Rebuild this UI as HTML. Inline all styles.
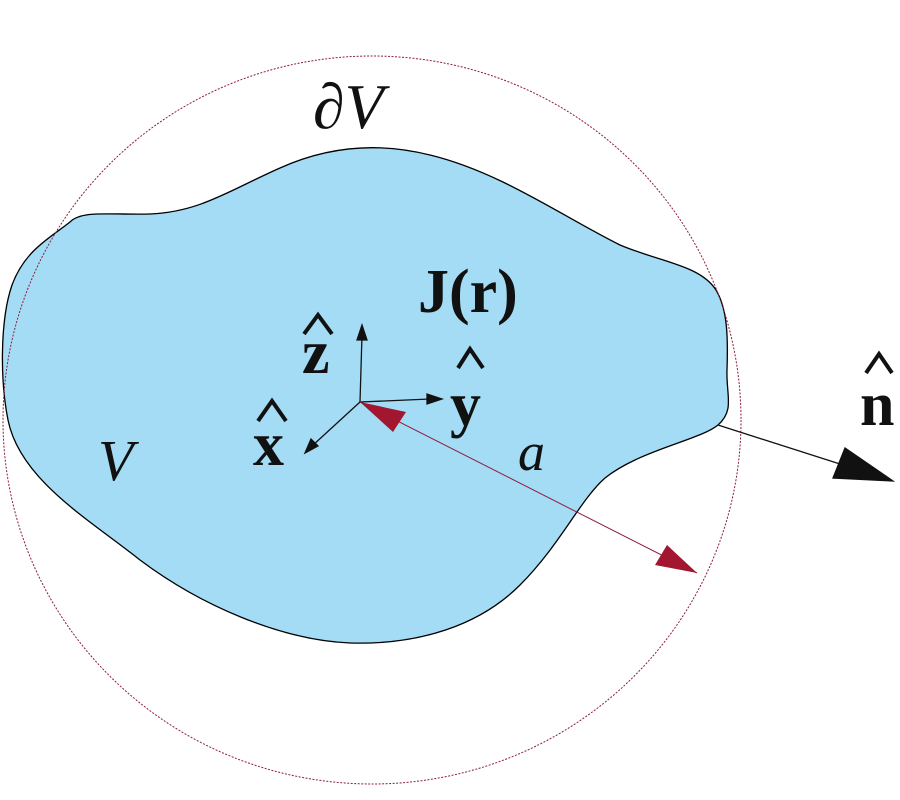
<!DOCTYPE html>
<html><head><style>body{margin:0;background:#fff}svg{display:block}</style></head><body>
<svg width="900" height="800" viewBox="0 0 900 800" xmlns="http://www.w3.org/2000/svg">
<path d="M70,222 C82,210 110,215 150,214 C200,212 230,190 280,168 C320,150 370,140 430,155 C500,172 560,215 620,245 C660,262 700,265 716,290 C728,310 728,340 727,370 C726,395 735,410 718,425 C700,440 640,450 605,478 C580,500 560,545 520,585 C480,625 420,645 350,643 C280,640 200,605 140,560 C90,520 20,480 8,420 C0,380 0,320 12,285 C25,250 50,238 70,222 Z" fill="#a4dcf5" stroke="#000" stroke-width="1.3"/>
<ellipse cx="372" cy="420" rx="369" ry="364" fill="none" stroke="#8b1e3f" stroke-width="1" stroke-dasharray="2,1.5"/>
<g stroke="#111" stroke-width="1.3" fill="#111">
<line x1="360" y1="402" x2="362" y2="335"/><polygon points="362,325 357,340 367,340"/>
<line x1="360" y1="402" x2="430" y2="399"/><polygon points="442,399 427,394 427,404"/>
<line x1="360" y1="402" x2="312" y2="446"/><polygon points="305,453 311,439 318,446"/>
<line x1="718" y1="425" x2="840" y2="464"/><polygon points="893,481 845,448 833,478"/>
</g>
<line x1="360" y1="402" x2="697" y2="573" stroke="#8b1e3f" stroke-width="1"/>
<polygon points="360,402 406,412 393,432" fill="#a3162f"/>
<polygon points="697,573 667,545 655,565" fill="#a3162f"/>
<g fill="none" stroke="#111" stroke-width="4">
<polyline points="304,334 318,315 332,334"/>
<polyline points="258,421 272,401 286,421"/>
<polyline points="458,368 470,349 483,368"/>
<polyline points="866,373 879,354 892,373"/>
</g>
<g style="font-family:'Liberation Serif',serif" fill="#111">
<text x="313" y="128" font-size="64" font-style="italic">∂V</text>
<text x="98" y="480" font-size="58" font-style="italic">V</text>
<text x="518" y="470" font-size="54" font-style="italic">a</text>
<text x="418" y="312" font-size="62" font-weight="bold">J(r)</text>
<text x="302" y="373" font-size="62" font-weight="bold">z</text>
<text x="253" y="465" font-size="62" font-weight="bold">x</text>
<text x="450" y="425" font-size="62" font-weight="bold">y</text>
<text x="860" y="425" font-size="62" font-weight="bold">n</text>
</g>
</svg>
</body></html>
